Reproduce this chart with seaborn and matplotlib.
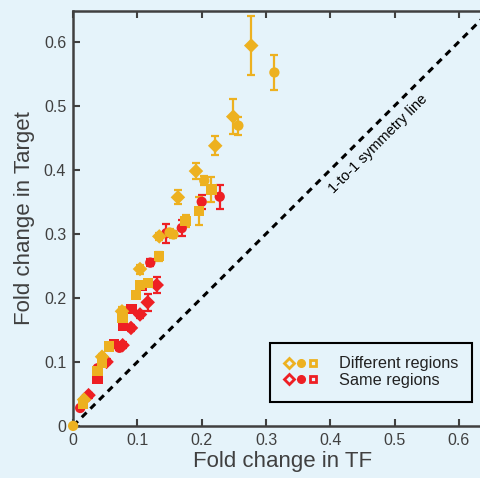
import matplotlib
matplotlib.use("Agg")
import matplotlib.pyplot as plt
import seaborn as sns
import pandas as pd
from matplotlib.lines import Line2D
from matplotlib.legend_handler import HandlerTuple
from matplotlib.ticker import FuncFormatter

# values
diff_tf = [0.277, 0.249, 0.221, 0.191, 0.163, 0.134, 0.104, 0.076, 0.045, 0.017,
           0.313, 0.257, 0.204, 0.156, 0.150, 0.0,
           0.215, 0.196, 0.175, 0.134, 0.116, 0.104, 0.098, 0.077, 0.056, 0.045, 0.038, 0.015]
diff_target = [0.594, 0.483, 0.4375, 0.398, 0.357, 0.296, 0.245, 0.179, 0.108, 0.041,
               0.552, 0.469, 0.383, 0.299, 0.302, 0.0,
               0.369, 0.336, 0.320, 0.265, 0.223, 0.220, 0.204, 0.168, 0.124, 0.098, 0.086, 0.035]
diff_err = [0.046, 0.027, 0.015, 0.013, 0.011, 0.006, 0.007, 0.006, 0.005, 0.004,
            0.027, 0.014, 0.007, 0.006, 0.005, 0.0,
            0.020, 0.022, 0.010, 0.007, 0.005, 0.005, 0.004, 0.005, 0.004, 0.004, 0.004, 0.003]
diff_shape = ["diamond"] * 10 + ["circle"] * 6 + ["square"] * 12

same_tf = [0.130, 0.116, 0.104, 0.090, 0.077, 0.052, 0.024,
           0.228, 0.200, 0.169, 0.145, 0.120, 0.072, 0.038, 0.011,
           0.107, 0.091, 0.078, 0.064, 0.038]
same_target = [0.220, 0.193, 0.174, 0.153, 0.126, 0.100, 0.048,
               0.358, 0.350, 0.309, 0.301, 0.255, 0.122, 0.090, 0.028,
               0.219, 0.183, 0.157, 0.128, 0.073]
same_err = [0.013, 0.013, 0.006, 0.005, 0.005, 0.004, 0.004,
            0.019, 0.011, 0.013, 0.015, 0.005, 0.004, 0.003, 0.003,
            0.005, 0.004, 0.004, 0.004, 0.004]
same_shape = ["diamond"] * 7 + ["circle"] * 8 + ["square"] * 5

orange = "#EDB120"
red = "#EE1F24"
bg = "#E5F3FA"
grey = "#404040"

df = pd.concat([
    pd.DataFrame({"tf": same_tf, "target": same_target, "err": same_err,
                  "shape": same_shape, "region": "Same regions"}),
    pd.DataFrame({"tf": diff_tf, "target": diff_target, "err": diff_err,
                  "shape": diff_shape, "region": "Different regions"}),
], ignore_index=True)

plt.rcParams['font.family'] = ['Liberation Sans', 'DejaVu Sans']

fig = plt.figure(figsize=(4.81, 4.78), dpi=100, facecolor=bg)
ax = fig.add_axes([0.152, 0.109, 0.869, 0.868])
ax.set_facecolor(bg)

# symmetry line
ax.plot([0, 0.65], [0, 0.65], color="black", lw=2.2, dashes=(2.2, 1.8), zorder=1)
ax.text(0.474, 0.440, "1-to-1 symmetry line", rotation=45, rotation_mode="anchor",
        ha="center", va="center", fontsize=10.5, color="black")

colors = {"Different regions": orange, "Same regions": red}
for region, sub in df.groupby("region", sort=False):
    ax.errorbar(sub["tf"], sub["target"], yerr=sub["err"], fmt="none",
                ecolor=colors[region], elinewidth=1.6, capsize=2.6, capthick=1.6, zorder=2)

sns.scatterplot(data=df, x="tf", y="target", hue="region", style="shape",
                palette=colors, markers={"diamond": "D", "circle": "o", "square": "s"},
                s=55, linewidth=0, legend=False, ax=ax, zorder=3, clip_on=False)

ax.set_xlim(0, 0.65)
ax.set_ylim(0, 0.648)
ax.set_xticks([0, 0.1, 0.2, 0.3, 0.4, 0.5, 0.6])
ax.set_yticks([0, 0.1, 0.2, 0.3, 0.4, 0.5, 0.6])
fmt = FuncFormatter(lambda v, p: "0" if abs(v) < 1e-9 else f"{v:.1f}")
ax.xaxis.set_major_formatter(fmt)
ax.yaxis.set_major_formatter(fmt)
ax.tick_params(direction="in", length=5, width=1.5, color=grey, labelcolor=grey,
               labelsize=11.5, top=True, right=False, pad=5)
for side in ["left", "bottom", "top"]:
    ax.spines[side].set_color(grey)
    ax.spines[side].set_linewidth(1.8)
ax.spines["right"].set_visible(False)

ax.set_xlabel("Fold change in TF", fontsize=16, color=grey, labelpad=2)
ax.set_ylabel("Fold change in Target", fontsize=16, color=grey, labelpad=6)

def group(color):
    return (Line2D([], [], marker="D", ls="none", mfc="none", mec=color, mew=2, ms=5.5),
            Line2D([], [], marker="o", ls="none", mfc=color, mec=color, ms=5.5),
            Line2D([], [], marker="s", ls="none", mfc="none", mec=color, mew=2, ms=5))

leg = ax.legend([group(orange), group(red)], ["Different regions", "Same regions"],
                handler_map={tuple: HandlerTuple(ndivide=None, pad=0.1)},
                loc="lower left", bbox_to_anchor=(0.471, 0.058), fontsize=11.7,
                frameon=True, fancybox=False, edgecolor="black", facecolor=bg,
                framealpha=1, handlelength=2.1, borderpad=0.85, labelspacing=0.1,
                handletextpad=1.3, borderaxespad=0)
leg.get_frame().set_linewidth(1.5)
for t in leg.get_texts():
    t.set_color("#222222")

fig.savefig("out.png", dpi=100, facecolor=bg)
